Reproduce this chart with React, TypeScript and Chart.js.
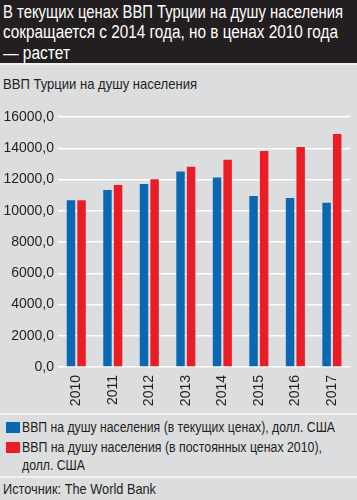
import React, { useEffect, useRef } from "react";
import { Chart, registerables } from "chart.js";

Chart.register(...registerables);

const years = ["2010", "2011", "2012", "2013", "2014", "2015", "2016", "2017"];
const currentPrices = [10672, 11335, 11707, 12519, 12127, 10948, 10820, 10513];
const constantPrices = [10672, 11650, 12010, 12820, 13270, 13820, 14080, 14910];
const seriesLabels = [
  "ВВП на душу населения (в текущих ценах), долл. США",
  "ВВП на душу населения (в постоянных ценах 2010), долл. США",
];
const seriesColors = ["#0a67b2", "#ec1c27"];
const titleLines = [
  "В текущих ценах ВВП Турции на душу населения",
  "сокращается с 2014 года, но в ценах 2010 года",
  "— растет",
];
const subtitleText = "ВВП Турции на душу населения";
const legendLines = [
  ["ВВП на душу населения (в текущих ценах), долл. США"],
  ["ВВП на душу населения (в постоянных ценах 2010),", "долл. США"],
];
const sourceText = "Источник: The World Bank";

const FONT = "'Liberation Sans', Arial, sans-serif";

let measureCtx: CanvasRenderingContext2D | null = null;
function textWidth(text: string, size: number) {
  if (!measureCtx) measureCtx = document.createElement("canvas").getContext("2d");
  measureCtx!.font = `${size}px ${FONT}`;
  return measureCtx!.measureText(text).width;
}

function FitLine({ text, size, width, left, top, color }: { text: string; size: number; width: number; left: number; top: number; color?: string }) {
  const k = width / textWidth(text, size);
  return (
    <div
      style={{
        position: "absolute",
        left,
        top,
        fontSize: size,
        lineHeight: `${size + 2}px`,
        whiteSpace: "nowrap",
        transformOrigin: "0 50%",
        transform: `scaleX(${k})`,
        color,
      }}
    >
      {text}
    </div>
  );
}

export default function App() {
  const ref = useRef<HTMLCanvasElement>(null);
  useEffect(() => {
    document.body.style.margin = "0";
    const chart = new Chart(ref.current!, {
      type: "bar",
      data: {
        labels: years,
        datasets: [
          { label: seriesLabels[0], data: currentPrices, backgroundColor: seriesColors[0], barPercentage: 0.8, categoryPercentage: 0.58 },
          { label: seriesLabels[1], data: constantPrices, backgroundColor: seriesColors[1], barPercentage: 0.8, categoryPercentage: 0.58 },
        ],
      },
      options: {
        animation: false,
        responsive: false,
        maintainAspectRatio: false,
        layout: { padding: { top: 17, bottom: 3, left: 0, right: 5 } },
        plugins: { legend: { display: false }, tooltip: { enabled: false } },
        scales: {
          x: {
            grid: { display: false, drawTicks: false },
            border: { display: false },
            ticks: { minRotation: 90, maxRotation: 90, padding: 8, color: "#231f20", font: { family: FONT, size: 14 } },
            afterFit: (s: any) => { s.height = 40; },
          },
          y: {
            min: 0,
            max: 16000,
            grid: { color: "#ffffff", lineWidth: 1.5, drawTicks: false },
            border: { display: false },
            ticks: {
              stepSize: 2000,
              padding: 4,
              color: "#231f20",
              font: { family: FONT, size: 14 },
              callback: (v: any) => Number(v).toFixed(1).replace(".", ","),
            },
            afterFit: (s: any) => { s.width = 58; },
          },
        },
      },
    });
    return () => chart.destroy();
  }, []);

  return (
    <div style={{ position: "absolute", left: 0, top: 0, width: 357, height: 500, background: "#dcdddf", overflow: "hidden", fontFamily: FONT, color: "#231f20" }}>
      <div style={{ position: "absolute", left: 0, top: 0, width: 357, height: 63, background: "#231f20" }} />
      <FitLine text={titleLines[0]} size={18} width={340} left={3} top={2} color="#ffffff" />
      <FitLine text={titleLines[1]} size={18} width={335} left={3} top={22} color="#ffffff" />
      <FitLine text={titleLines[2]} size={18} width={67} left={3} top={43} color="#ffffff" />
      <div style={{ position: "absolute", left: 0, top: 63, width: 357, height: 1.5, background: "#f0f0f0" }} />
      <FitLine text={subtitleText} size={15} width={194} left={3} top={75} />
      <canvas ref={ref} width={357} height={310} style={{ position: "absolute", left: 0, top: 100, width: 357, height: 310 }} />
      <div style={{ position: "absolute", left: 0, top: 413, width: 357, height: 1.5, background: "#f0f0f0" }} />
      <div style={{ position: "absolute", left: 6, top: 422, width: 14, height: 11, background: seriesColors[0] }} />
      <FitLine text={legendLines[0][0]} size={15.5} width={313} left={22} top={418} />
      <div style={{ position: "absolute", left: 6, top: 442, width: 14, height: 11, background: seriesColors[1] }} />
      <FitLine text={legendLines[1][0]} size={15.5} width={300} left={22} top={438} />
      <FitLine text={legendLines[1][1]} size={15.5} width={63} left={22} top={456} />
      <div style={{ position: "absolute", left: 0, top: 476, width: 357, height: 1.5, background: "#f0f0f0" }} />
      <FitLine text={sourceText} size={15} width={153} left={3} top={480} />
    </div>
  );
}
